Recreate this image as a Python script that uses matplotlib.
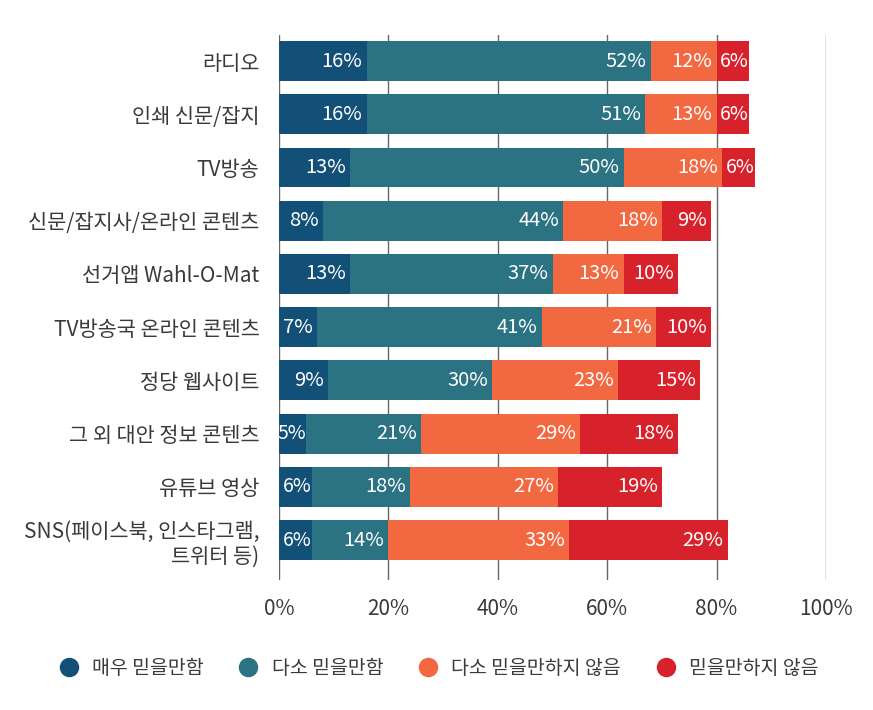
import matplotlib
matplotlib.use("Agg")
import matplotlib.pyplot as plt
from matplotlib.lines import Line2D
import numpy as np

plt.rcParams['font.family'] = ['Noto Sans CJK KR', 'DejaVu Sans']

categories = ["라디오", "인쇄 신문/잡지", "TV방송", "신문/잡지사/온라인 콘텐츠", "선거앱 Wahl-O-Mat",
              "TV방송국 온라인 콘텐츠", "정당 웹사이트", "그 외 대안 정보 콘텐츠", "유튜브 영상",
              "SNS(페이스북, 인스타그램,\n트위터 등)"]
very_trust = [16, 16, 13, 8, 13, 7, 9, 5, 6, 6]
some_trust = [52, 51, 50, 44, 37, 41, 30, 21, 18, 14]
some_distrust = [12, 13, 18, 18, 13, 21, 23, 29, 27, 33]
distrust = [6, 6, 6, 9, 10, 10, 15, 18, 19, 29]
series_names = ["매우 믿을만함", "다소 믿을만함", "다소 믿을만하지 않음", "믿을만하지 않음"]
xticks = [0, 20, 40, 60, 80, 100]
xtick_labels = ["0%", "20%", "40%", "60%", "80%", "100%"]

colors = ["#135078", "#2b7282", "#f26841", "#d8222b"]
text_color = "#3a3a3a"

fig = plt.figure(figsize=(8.73, 7.10), dpi=100)
ax = fig.add_axes([279/873, (710-580)/710, 547/873, 545/710])

y = np.arange(len(categories))
left = np.zeros(len(categories))
for vals, col in zip([very_trust, some_trust, some_distrust, distrust], colors):
    vals = np.array(vals, dtype=float)
    ax.barh(y, vals, left=left, height=0.75, color=col, zorder=2)
    for yi, (l, v) in enumerate(zip(left, vals)):
        small = v < 7
        ax.annotate(f"{int(v)}%", xy=(l + v, yi), xytext=(-0.5 if small else -3, 0),
                    textcoords='offset points', ha='right', va='center', color='white',
                    fontsize=14 if small else 14.5, zorder=3)
    left += vals

for xt in xticks:
    ax.axvline(xt, color="#666666", lw=1.0, zorder=1)

ax.set_xlim(0, 100)
ax.set_ylim(9.75, -0.49)
ax.set_xticks(xticks)
ax.set_xticklabels(xtick_labels, fontsize=15, color=text_color)
ax.set_yticks(y)
ax.set_yticklabels(categories, fontsize=15, color=text_color, multialignment='right')
ax.tick_params(axis='both', length=0)
ax.tick_params(axis='x', pad=13)
ax.tick_params(axis='y', pad=14)
for s in ax.spines.values():
    s.set_visible(False)

handles = [Line2D([0], [0], marker='o', linestyle='none', markersize=13,
                  markerfacecolor=c, markeredgecolor=c) for c in colors]
fig.legend(handles, series_names, loc='center', bbox_to_anchor=(0.497, (710-668)/710),
           ncol=4, frameon=False, fontsize=14, handletextpad=0.2, columnspacing=1.3,
           labelcolor=text_color)

fig.savefig("out.png", dpi=100)
